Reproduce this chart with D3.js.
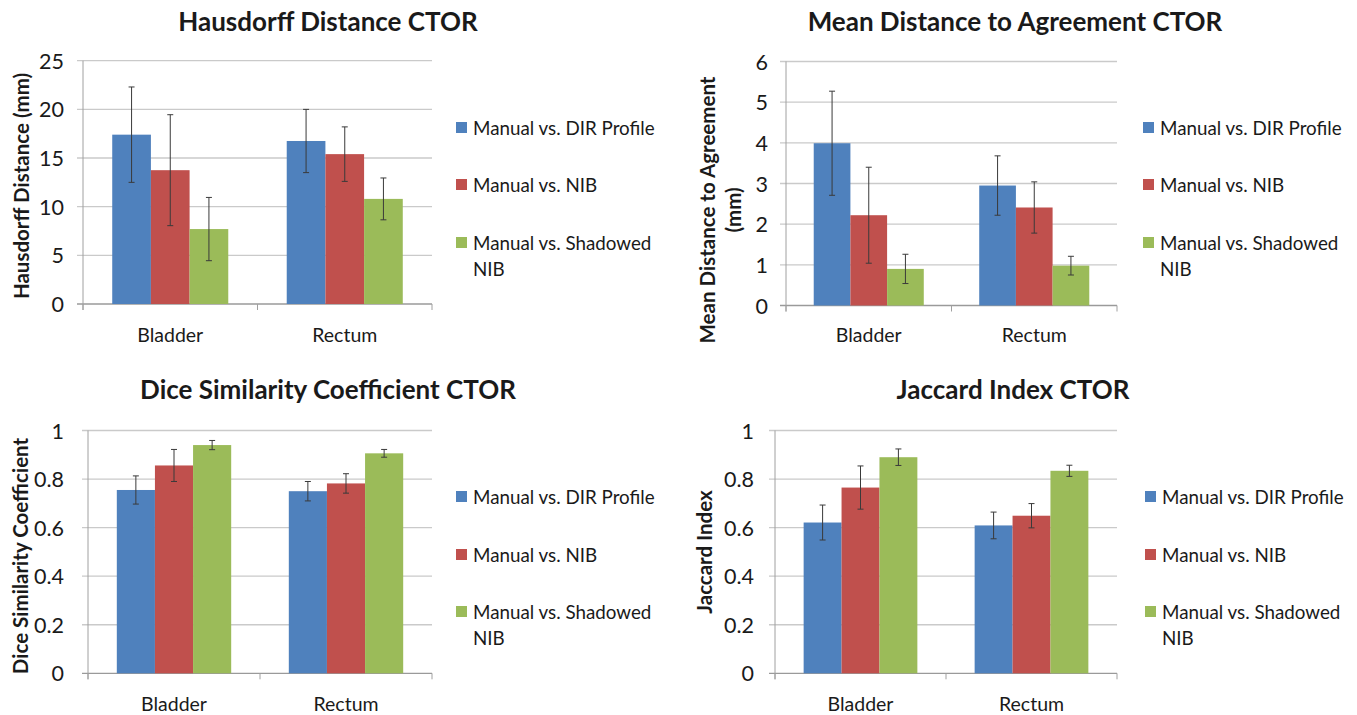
<!DOCTYPE html>
<html>
<head>
<meta charset="utf-8">
<script src="https://cdn.jsdelivr.net/npm/d3@7"></script>
<style>
  html, body { margin: 0; padding: 0; background: #fff; }
  svg { display: block; }
  text { font-family: Lato, "Open Sans", sans-serif; fill: #1a1a1a; }
</style>
</head>
<body>
<svg id="chart" width="1357" height="715"></svg>
<script>
// ---------------- DATA ----------------
const categories = ["Bladder", "Rectum"];
const seriesNames = ["Manual vs. DIR Profile", "Manual vs. NIB", "Manual vs. Shadowed NIB"];
const seriesColors = ["#4F81BD", "#C0504D", "#9BBB59"];

// rows = series (DIR Profile, NIB, Shadowed NIB), columns = categories (Bladder, Rectum)
const hdMean = [[17.4, 16.75], [13.75, 15.4], [7.7, 10.8]];
const hdErr  = [[4.9, 3.25], [5.7, 2.8], [3.25, 2.15]];
const hdTicks = [0, 5, 10, 15, 20, 25];

const mdaMean = [[3.99, 2.95], [2.22, 2.41], [0.9, 0.98]];
const mdaErr  = [[1.28, 0.73], [1.18, 0.63], [0.36, 0.23]];
const mdaTicks = [0, 1, 2, 3, 4, 5, 6];

const dscMean = [[0.755, 0.75], [0.856, 0.782], [0.94, 0.906]];
const dscErr  = [[0.058, 0.04], [0.066, 0.04], [0.019, 0.016]];
const dscTicks = [0, 0.2, 0.4, 0.6, 0.8, 1];

const jiMean = [[0.621, 0.609], [0.765, 0.649], [0.89, 0.834]];
const jiErr  = [[0.072, 0.055], [0.089, 0.05], [0.034, 0.023]];
const jiTicks = [0, 0.2, 0.4, 0.6, 0.8, 1];

// ---------------- LAYOUT ----------------
const panels = [
  { title: "Hausdorff Distance CTOR", yTitle: ["Hausdorff Distance (mm)"],
    mean: hdMean, err: hdErr, ticks: hdTicks, fmt: d => d,
    x0: 83, x1: 432, yTop: 60.7, yBot: 304, titleX: 328, titleY: 31,
    yTitleX: [29], yTitleY: 186, legendX: 456, legendY: [128, 185, 243], tickRight: 64, catY: 342 },
  { title: "Mean Distance to Agreement CTOR", yTitle: ["Mean Distance to Agreement", "(mm)"],
    mean: mdaMean, err: mdaErr, ticks: mdaTicks, fmt: d => d,
    x0: 786, x1: 1117, yTop: 61.5, yBot: 305.5, titleX: 1015, titleY: 31,
    yTitleX: [715, 741], yTitleY: 210, legendX: 1143, legendY: [128, 185, 243], tickRight: 768, catY: 342 },
  { title: "Dice Similarity Coefficient CTOR", yTitle: ["Dice Similarity Coefficient"],
    mean: dscMean, err: dscErr, ticks: dscTicks, fmt: d => d,
    x0: 88, x1: 432, yTop: 430.5, yBot: 673.3, titleX: 328, titleY: 399,
    yTitleX: [28], yTitleY: 556, legendX: 456, legendY: [497, 555, 612], tickRight: 64, catY: 711 },
  { title: "Jaccard Index CTOR", yTitle: ["Jaccard Index"],
    mean: jiMean, err: jiErr, ticks: jiTicks, fmt: d => d,
    x0: 775, x1: 1117, yTop: 430.5, yBot: 673.3, titleX: 1013, titleY: 399,
    yTitleX: [712], yTitleY: 552, legendX: 1145, legendY: [497, 555, 612], tickRight: 754, catY: 711 }
];

const svg = d3.select("#chart");

panels.forEach(p => {
  const g = svg.append("g");
  const yMax = p.ticks[p.ticks.length - 1];
  const y = d3.scaleLinear().domain([0, yMax]).range([p.yBot, p.yTop]);
  const x = d3.scaleBand().domain(categories).range([p.x0, p.x1]).paddingInner(0).paddingOuter(0);
  const groupW = x.bandwidth() * 0.665;
  const xs = d3.scaleBand().domain(d3.range(seriesNames.length)).range([0, groupW]).padding(0);

  // title
  g.append("text").attr("x", p.titleX).attr("y", p.titleY)
    .attr("text-anchor", "middle").attr("font-size", 26).attr("font-weight", 700)
    .text(p.title);

  // gridlines
  g.append("g").selectAll("line").data(p.ticks).join("line")
    .attr("x1", p.x0 - 6).attr("x2", p.x1)
    .attr("y1", d => y(d)).attr("y2", d => y(d))
    .attr("stroke", d => d === 0 ? "#9a9a9a" : "#cacaca").attr("stroke-width", 1.3);

  // y axis labels
  const yAxis = d3.axisLeft(y).tickValues(p.ticks).tickFormat(p.fmt).tickSize(0).tickPadding(0);
  const ya = g.append("g").attr("transform", `translate(${p.tickRight},0)`).call(yAxis);
  ya.select(".domain").remove();
  ya.selectAll("text").attr("font-size", 21.5).attr("font-family", "Lato, sans-serif")
    .attr("fill", "#1a1a1a").attr("dy", "0.35em");

  // y axis line
  g.append("line").attr("x1", p.x0).attr("x2", p.x0).attr("y1", p.yTop).attr("y2", p.yBot + 6)
    .attr("stroke", "#a0a0a0").attr("stroke-width", 1);

  // x axis ticks at band edges
  const edges = categories.map(c => x(c)).concat([p.x1]);
  g.append("g").selectAll("line").data(edges).join("line")
    .attr("x1", d => d).attr("x2", d => d).attr("y1", p.yBot).attr("y2", p.yBot + 6)
    .attr("stroke", "#a0a0a0").attr("stroke-width", 1);

  // category labels
  const xAxis = d3.axisBottom(x).tickSize(0).tickPadding(0);
  const xa = g.append("g").attr("transform", `translate(0,${p.catY})`).call(xAxis);
  xa.select(".domain").remove();
  xa.selectAll("text").attr("font-size", 19.5).attr("font-family", "Lato, sans-serif")
    .attr("fill", "#1a1a1a").attr("dy", 0);

  // bars
  const barData = [];
  p.mean.forEach((row, si) => row.forEach((v, ci) => barData.push({ si, ci, v, e: p.err[si][ci] })));
  const bx = d => x(categories[d.ci]) + (x.bandwidth() - groupW) / 2 + xs(d.si);

  g.append("g").selectAll("rect").data(barData).join("rect")
    .attr("x", bx).attr("width", xs.bandwidth())
    .attr("y", d => y(d.v)).attr("height", d => y(0) - y(d.v))
    .attr("fill", d => seriesColors[d.si]);

  // error bars
  const eg = g.append("g").attr("stroke", "#3a3a3a").attr("stroke-width", 1);
  barData.forEach(d => {
    const cx = bx(d) + xs.bandwidth() / 2;
    eg.append("line").attr("x1", cx).attr("x2", cx).attr("y1", y(d.v + d.e)).attr("y2", y(d.v - d.e));
    eg.append("line").attr("x1", cx - 3).attr("x2", cx + 3).attr("y1", y(d.v + d.e)).attr("y2", y(d.v + d.e));
    eg.append("line").attr("x1", cx - 3).attr("x2", cx + 3).attr("y1", y(d.v - d.e)).attr("y2", y(d.v - d.e));
  });

  // y title
  p.yTitle.forEach((t, i) => {
    g.append("text")
      .attr("transform", `translate(${p.yTitleX[i]},${p.yTitleY}) rotate(-90)`)
      .attr("text-anchor", "middle").attr("font-size", 20.5).attr("font-weight", 700)
      .text(t);
  });

  // legend
  seriesNames.forEach((name, i) => {
    const ly = p.legendY[i];
    g.append("rect").attr("x", p.legendX).attr("y", ly - 6).attr("width", 11).attr("height", 11)
      .attr("fill", seriesColors[i]);
    const words = name === "Manual vs. Shadowed NIB" ? ["Manual vs. Shadowed", "NIB"] : [name];
    words.forEach((w, j) => {
      g.append("text").attr("x", p.legendX + 17).attr("y", ly + 6.5 + j * 26)
        .attr("font-size", 18.8).text(w);
    });
  });
});
</script>
</body>
</html>
